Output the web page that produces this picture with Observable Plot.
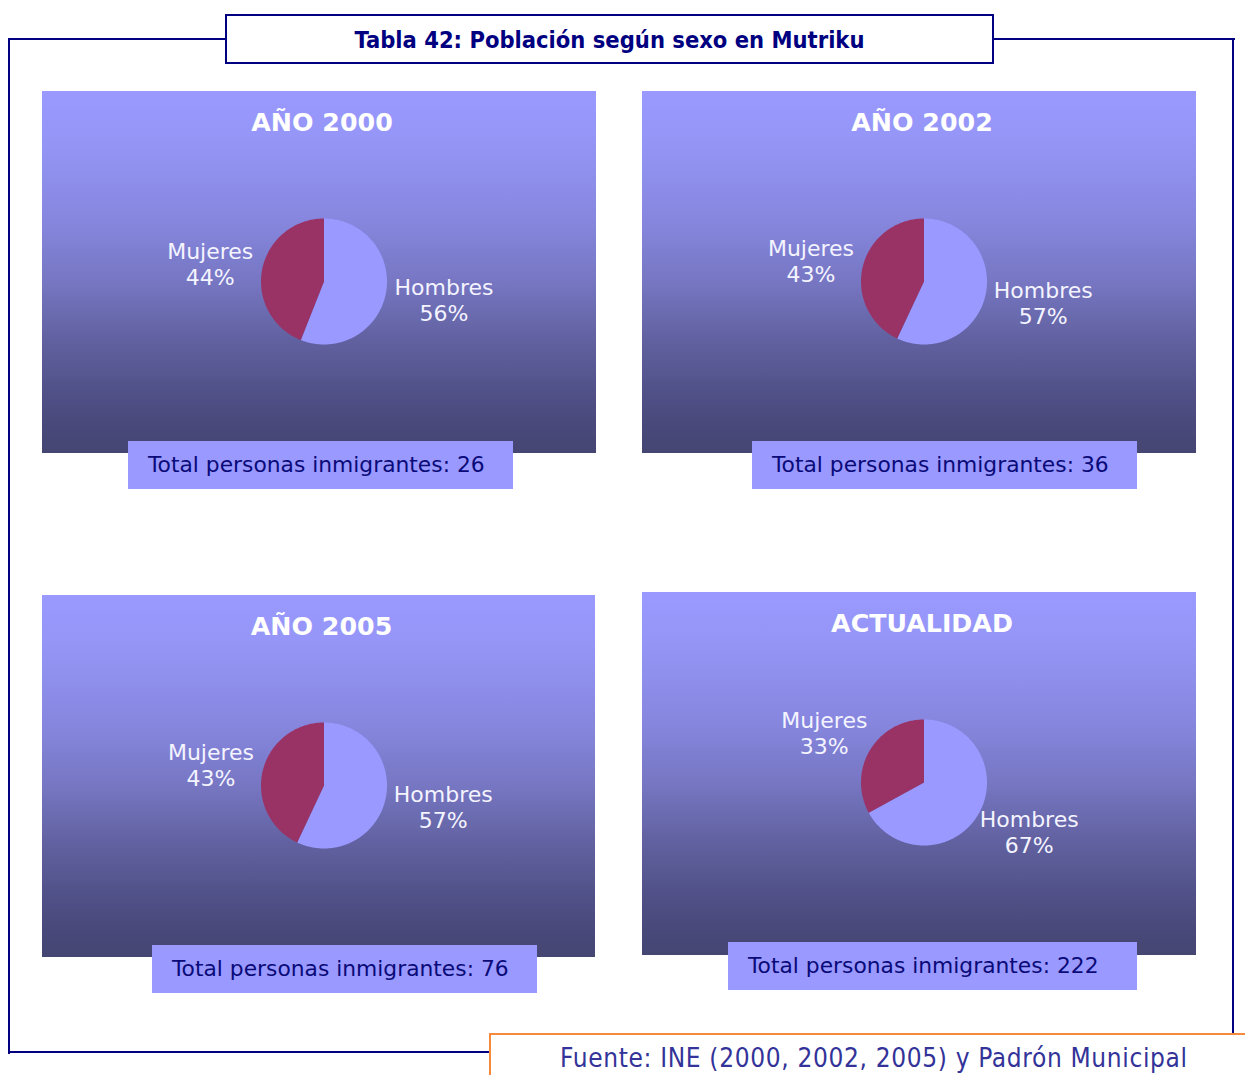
<!DOCTYPE html>
<html>
<head>
<meta charset="utf-8">
<script src="https://cdn.jsdelivr.net/npm/d3@7"></script>
<script src="https://cdn.jsdelivr.net/npm/@observablehq/plot@0.6"></script>
<style>
  html, body { margin: 0; padding: 0; background: #fff; }
  #root { position: relative; width: 1245px; height: 1075px; overflow: hidden; font-family: "DejaVu Sans", Verdana, sans-serif; }
  .line { position: absolute; background: #000080; }
  .title { position: absolute; left: 225px; top: 14px; width: 765px; height: 46px; border: 2px solid #000080; background: #fff;
           font-family: "DejaVu Sans Condensed", "DejaVu Sans", sans-serif; font-weight: bold; font-size: 23.5px; color: #000080;
           text-align: center; line-height: 48px; }
  .panel { position: absolute; }
  .total { position: absolute; height: 48px; background: #9999ff; color: #0a0a78; font-size: 21.8px; line-height: 48px; box-sizing: border-box; padding-left: 20px; white-space: nowrap; }
  .source { position: absolute; left: 489px; top: 1033px; width: 800px; height: 80px; border: 2px solid #f58a3c; background: #fff;
            box-sizing: border-box; font-family: "DejaVu Sans Condensed", "DejaVu Sans", sans-serif; font-size: 26px; letter-spacing: 0.65px; color: #333399; padding-left: 69px; padding-top: 8px; white-space: nowrap; }
</style>
</head>
<body>
<div id="root"></div>
<script>
// ---- data ----
const periods = ["AÑO 2000", "AÑO 2002", "AÑO 2005", "ACTUALIDAD"];
const sexes = ["Hombres", "Mujeres"];
const hombres = [56, 57, 57, 67];
const mujeres = [44, 43, 43, 33];
const totals = [26, 36, 76, 222];
const totalLabel = "Total personas inmigrantes: ";
const chartTitle = "Tabla 42: Población según sexo en Mutriku";
const sourceText = "Fuente: INE (2000, 2002, 2005) y Padrón Municipal";

// ---- layout ----
const layout = [
  {left: 42, top: 91, w: 554, h: 362, box: {left: 128, top: 441, w: 385}},
  {left: 642, top: 91, w: 554, h: 362, box: {left: 752, top: 441, w: 385}},
  {left: 42, top: 595, w: 553, h: 362, box: {left: 152, top: 945, w: 385}},
  {left: 642, top: 592, w: 554, h: 363, box: {left: 728, top: 942, w: 409}}
];
const pie = {cx: 281.5, cy: 190, r: 63, gap: 8};
const labelFont = 22, labelLine = 26, labelSpacing = 0.5;

const root = document.getElementById("root");
function el(cls, css, text) {
  const d = document.createElement("div");
  d.className = cls;
  Object.assign(d.style, css);
  if (text != null) d.textContent = text;
  root.appendChild(d);
  return d;
}
// outer frame lines
el("line", {left: "8px", top: "38px", width: "217px", height: "2px"});
el("line", {left: "990px", top: "38px", width: "245px", height: "2px"});
el("line", {left: "8px", top: "38px", width: "2px", height: "1016px"});
el("line", {left: "1232px", top: "38px", width: "2px", height: "1000px"});
el("line", {left: "8px", top: "1051px", width: "482px", height: "2px"});

el("title", {}, chartTitle);

const ctx = document.createElement("canvas").getContext("2d");
ctx.font = `${labelFont}px "DejaVu Sans"`;
const tw = s => Math.max(...s.split("\n").map(t => ctx.measureText(t).width + t.length * labelSpacing));

periods.forEach((period, i) => {
  const L = layout[i];
  const values = [hombres[i], mujeres[i]];
  const pts = [];
  const labels = [];
  let start = 0;
  sexes.forEach((sex, j) => {
    const a0 = start, a1 = start + values[j] / 100 * 2 * Math.PI;
    pts.push({sex, x: pie.cx, y: pie.cy});
    const n = Math.max(2, Math.ceil((a1 - a0) / (Math.PI / 180)));
    for (let k = 0; k <= n; k++) {
      const a = a0 + (a1 - a0) * k / n;
      pts.push({sex, x: pie.cx + pie.r * Math.sin(a), y: pie.cy - pie.r * Math.cos(a)});
    }
    pts.push({sex, x: pie.cx, y: pie.cy});
    const am = (a0 + a1) / 2;
    const text = `${sex}\n${values[j]}%`;
    const w = tw(text), h = labelLine * 2;
    const R = pie.r + pie.gap;
    labels.push({
      text,
      x: pie.cx + Math.sin(am) * (R + w / 2),
      y: pie.cy - Math.cos(am) * (R + h / 2)
    });
    start = a1;
  });

  const chart = Plot.plot({
    width: L.w, height: L.h, margin: 0,
    x: {domain: [0, L.w], range: [0, L.w], axis: null},
    y: {domain: [0, L.h], range: [0, L.h], axis: null},
    color: {domain: sexes, range: ["#9999ff", "#993366"]},
    style: {background: "linear-gradient(to bottom, #9999ff 0%, #9696f8 12%, #8787e0 35%, #7777c4 52%, #6262a2 68%, #52528a 82%, #48487a 93%, #464673 100%)", overflow: "visible"},
    marks: [
      Plot.line(pts, {x: "x", y: "y", z: "sex", fill: "sex", stroke: null, curve: "linear"}),
      Plot.text(labels, {x: "x", y: "y", text: "text", fill: "#f4f4ff", fontSize: labelFont, lineHeight: labelLine / labelFont, lineAnchor: "middle", textAnchor: "middle", fontFamily: "DejaVu Sans"}),
      Plot.text([period], {frameAnchor: "top", dx: 2.5, dy: 31, lineAnchor: "middle", text: d => d, fill: "#ffffff", fontSize: 25.3, fontWeight: "bold", fontFamily: "DejaVu Sans"})
    ]
  });
  chart.querySelectorAll("text").forEach(t => { if (t.getAttribute("font-size") === String(labelFont)) t.style.letterSpacing = labelSpacing + "px"; });
  const holder = el("panel", {left: L.left + "px", top: L.top + "px", width: L.w + "px", height: L.h + "px"});
  holder.appendChild(chart);
  el("total", {left: L.box.left + "px", top: L.box.top + "px", width: L.box.w + "px"}, totalLabel + totals[i]);
});

el("source", {}, sourceText);
</script>
</body>
</html>
